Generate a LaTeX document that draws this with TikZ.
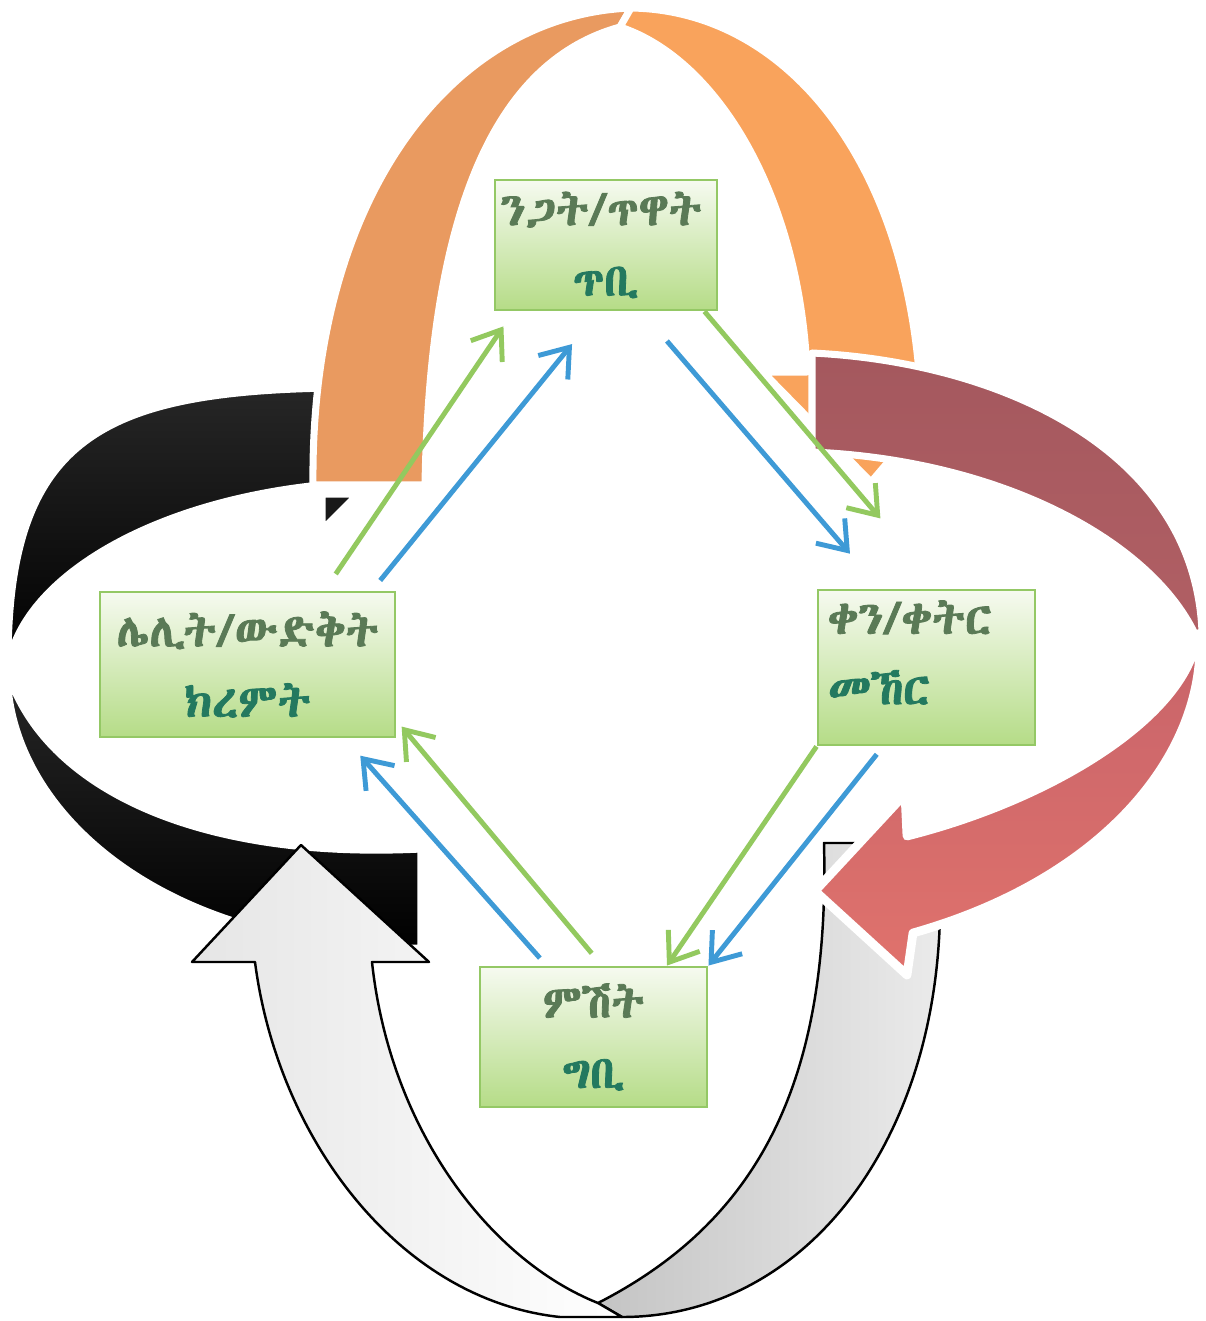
\documentclass[tikz,border=0pt]{standalone}
\usepackage{fontspec}
\usetikzlibrary{arrows.meta, calc}

\newfontfamily\gezfont[FakeBold=1.8]{Abyssinica SIL}

\definecolor{boxtop}{HTML}{F6FAF0}
\definecolor{boxbot}{HTML}{B5DC87}
\definecolor{boxline}{HTML}{94C865}
\definecolor{txtone}{HTML}{5A7A56}
\definecolor{txttwo}{HTML}{23795F}
\definecolor{arrblue}{HTML}{3E9AD6}
\definecolor{arrgreen}{HTML}{93C95F}
\definecolor{orleft}{HTML}{E99A60}
\definecolor{orright}{HTML}{F9A35C}
\definecolor{maroontop}{HTML}{A4585E}
\definecolor{maroonbot}{HTML}{B15F64}
\definecolor{redtop}{HTML}{C8646A}
\definecolor{redbot}{HTML}{E0726C}
\definecolor{backgrey}{HTML}{C4C4C4}

\begin{document}
\begin{tikzpicture}[
    x=0.01cm, y=-0.01cm,
    season/.style={rectangle, draw=boxline, line width=0.8pt,
        top color=boxtop, bottom color=boxbot, align=center, inner sep=0pt,
        font=\gezfont\fontsize{13}{20}\selectfont},
    band/.style={draw=white, line width=2pt, line join=round},
    uarrow/.style={draw=black, line width=0.7pt, line join=round},
    bluearr/.style={draw=arrblue, line width=1.4pt,
        -{Straight Barb[length=2.6mm,width=3.8mm]}},
    greenarr/.style={bluearr, draw=arrgreen}
]
\useasboundingbox (0,0) rectangle (1205,1321);

% Black ring, upper half
\path[band, top color=black!85, bottom color=black] (330,388) .. controls (100,392) and (8,440) .. (8,662) -- (8,668) .. controls (20,580) and (150,500) .. (330,484) -- cycle;
\path[band, fill=black!90] (322,494) -- (358,494) -- (322,530) -- cycle;

% Orange arch
\path[band, fill=orleft] (313,485) .. controls (310,200) and (450,15) .. (631,8) -- (620,27) .. controls (500,60) and (430,200) .. (425,485) -- cycle;
\path[band, fill=orright] (631,8) .. controls (780,10) and (900,150) .. (919,372) -- (965,372) -- (871,482) -- (763,372) -- (807,372) .. controls (800,200) and (720,60) .. (620,27) -- cycle;

% Maroon ring, upper right
\path[band, top color=maroontop, bottom color=maroonbot] (812,353) .. controls (1000,362) and (1195,450) .. (1202,632) -- (1195,634) .. controls (1150,540) and (1000,460) .. (812,452) -- cycle;

% Grey back of the U arrow
\path[uarrow, left color=backgrey, right color=white!92!black] (598,1303) .. controls (760,1220) and (830,1080) .. (824,843) -- (860,843) -- (940,915) .. controls (935,1150) and (800,1317) .. (622,1317) -- cycle;

% Red arrow
\path[band, line width=2.5pt, top color=redtop, bottom color=redbot] (1200,645) .. controls (1200,760) and (1100,880) .. (913,933) -- (907,975) -- (815,891) -- (905,794) -- (907,836) .. controls (1050,800) and (1180,720) .. (1196,642) -- cycle;

% Black ring, lower half
\path[band, top color=black!85, bottom color=black] (8,688) .. controls (20,820) and (170,950) .. (421,948) -- (421,849) .. controls (200,860) and (50,790) .. (10,679) -- cycle;

% White front of the U arrow
\path[uarrow, left color=white!90!black, right color=white] (192,962) -- (301,845) -- (429,962) -- (372,962) .. controls (390,1130) and (490,1260) .. (598,1303) -- (622,1317) -- (560,1317) .. controls (400,1300) and (278,1140) .. (255,962) -- cycle;

% Season nodes
\node[season, minimum width=2.22cm, minimum height=1.30cm] (dawn) at (606,245) {\kern-0.1cm{\color{txtone}ንጋት/ጥዋት}\\{\color{txttwo}ጥቢ}};
\node[season, minimum width=2.17cm, minimum height=1.55cm, text width=1.97cm, align=left] (noon) at (926.5,667.5) {{\color{txtone}ቀን/ቀትር}\\{\color{txttwo}መኸር}\\[-0.4cm]\mbox{}};
\node[season, minimum width=2.27cm, minimum height=1.40cm] (dusk) at (593.5,1037) {{\color{txtone}ምሽት}\\{\color{txttwo}ግቢ}};
\node[season, minimum width=2.95cm, minimum height=1.45cm] (night) at (247.5,664.5) {{\color{txtone}ሌሊት/ውድቅት}\\{\color{txttwo}ክረምት}};

% Thin arrows between the seasons
\draw[greenarr, shorten <=2mm, shorten >=1.8mm] ($(night.north)+(77,0)$) -- ($(dawn.south west)+(20,0)$);
\draw[bluearr, shorten <=1.3mm, shorten >=4.2mm] ($(night.north)+(124.5,0)$) -- ($(dawn.south west)+(105,0)$);
\draw[bluearr, shorten <=3.9mm, shorten >=4.6mm] ($(dawn.south)+(35.5,0)$) -- ($(noon.north)+(-46.5,0)$);
\draw[greenarr, shorten >=9.2mm] ($(dawn.south east)+(-14,0)$) -- ($(noon.north)+(13.5,0)$);
\draw[greenarr] (noon.south west) -- ($(dusk.north)+(73.5,0)$);
\draw[bluearr, shorten <=1mm] ($(noon.south)+(-43.5,0)$) -- (dusk.north east);
\draw[bluearr, shorten <=1mm, shorten >=2.3mm] ($(dusk.north)+(-47,0)$) -- ($(night.south)+(97.5,0)$);
\draw[greenarr, shorten <=1.6mm, shorten >=0.8mm] ($(dusk.north)+(8.5,0)$) -- ($(night.south east)+(0,-18)$);

\end{tikzpicture}
\end{document}
